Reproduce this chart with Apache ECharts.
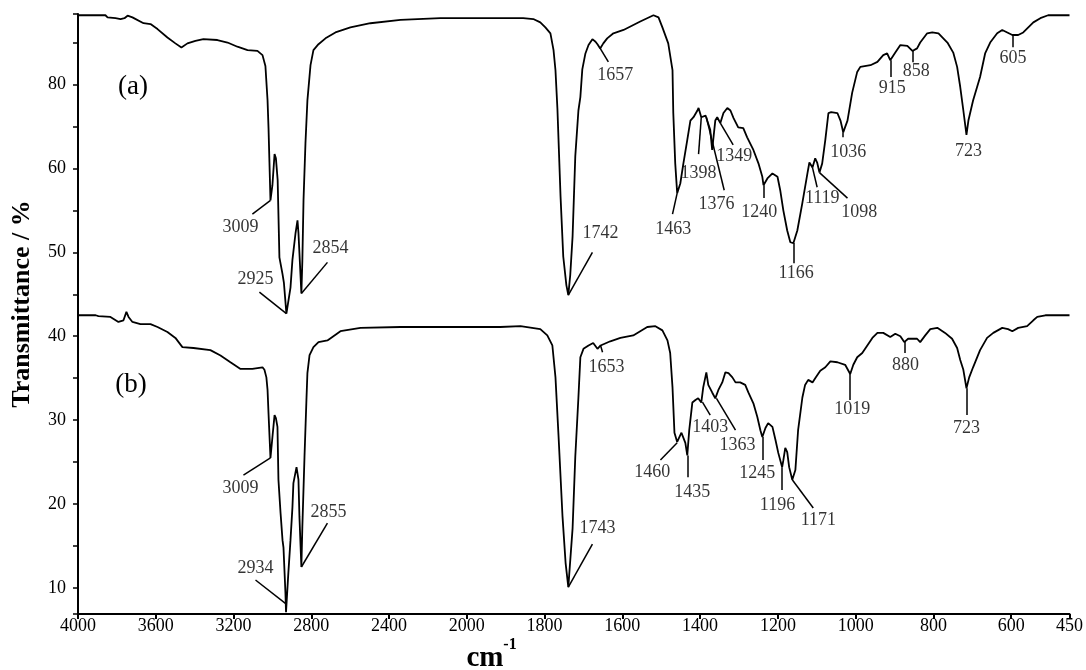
<!DOCTYPE html>
<html>
<head>
<meta charset="utf-8">
<script src="https://cdn.jsdelivr.net/npm/echarts@6/dist/echarts.min.js"></script>
<style>html,body{margin:0;padding:0;background:#fff;}#chart{width:1086px;height:670px;}</style>
</head>
<body>
<div id="chart"></div>
<script>
// x tick labels (wavenumber, cm-1)
const xTickLabels = [4000,3600,3200,2800,2400,2000,1800,1600,1400,1200,1000,800,600,450];
// y tick values (internal) and their printed labels
const yTickValues = [10,20,30,40,50,60,70];
const yTickLabels = ['10','20','30','40','50','60','80'];
const yMinorTicks = [15,25,35,45,55,65,75];

// spectrum (a): [wavenumber, transmittance]
const specA = [[4000,78.25],[3859,78.25],[3848,78.0],[3807,77.9],[3781,77.8],[3761,77.9],[3745,78.2],[3720,78.0],[3663,77.3],[3627,77.2],[3591,76.6],[3540,75.6],[3499,74.9],[3468,74.4],[3437,74.9],[3396,75.2],[3355,75.4],[3283,75.3],[3231,75.0],[3180,74.5],[3128,74.1],[3077,74.0],[3051,73.5],[3036,72.2],[3025,68.1],[3020,64.8],[3010,56.2],[3000,58.0],[2989,61.7],[2982,61.2],[2973,58.6],[2964,49.4],[2948,47.4],[2941,46.4],[2928,42.7],[2907,45.8],[2897,49.1],[2881,52.3],[2871,53.8],[2866,52.3],[2861,49.9],[2851,45.1],[2846,49.0],[2840,56.2],[2830,63.0],[2820,68.1],[2804,72.3],[2789,74.1],[2763,74.8],[2727,75.5],[2676,76.2],[2599,76.8],[2496,77.3],[2341,77.7],[2136,77.9],[1914,77.9],[1855,77.9],[1829,77.8],[1811,77.4],[1798,76.8],[1785,76.1],[1777,74.1],[1772,71.7],[1767,67.1],[1759,56.7],[1752,49.5],[1744,46.1],[1739,44.9],[1734,47.3],[1728,51.9],[1721,61.5],[1713,66.9],[1708,68.5],[1703,71.8],[1695,73.7],[1687,74.7],[1677,75.4],[1669,75.1],[1664,74.8],[1657,74.3],[1649,74.9],[1639,75.5],[1623,76.1],[1597,76.5],[1554,77.5],[1520,78.25],[1507,78.0],[1497,76.8],[1482,74.9],[1471,71.7],[1469,66.6],[1464,60.6],[1459,57.05],[1451,58.2],[1443,60.6],[1433,63.4],[1425,65.7],[1417,66.1],[1407,66.9],[1404,67.2],[1397,66.1],[1386,66.3],[1381,66.1],[1374,64.6],[1369,62.2],[1361,65.7],[1356,66.1],[1348,65.4],[1340,66.6],[1330,67.2],[1322,66.9],[1314,66.0],[1302,64.9],[1289,64.8],[1279,63.7],[1263,62.2],[1250,60.6],[1240,59.0],[1237,58.0],[1227,58.8],[1214,59.4],[1201,59.0],[1194,57.4],[1186,55.0],[1176,52.6],[1168,51.2],[1160,51.1],[1150,52.6],[1137,55.9],[1124,59.4],[1119,60.7],[1111,60.1],[1104,61.2],[1099,60.7],[1093,59.5],[1086,60.6],[1078,63.4],[1070,66.6],[1063,66.7],[1047,66.6],[1039,65.7],[1032,64.3],[1021,65.7],[1009,69.0],[996,71.5],[988,72.1],[962,72.3],[944,72.7],[929,73.5],[919,73.7],[911,72.9],[898,73.8],[885,74.7],[867,74.6],[854,74.0],[842,74.3],[834,75.0],[816,76.1],[803,76.2],[787,76.1],[764,75.0],[749,73.8],[739,72.1],[731,69.7],[723,66.9],[715,64.0],[710,65.7],[698,68.1],[680,70.9],[667,73.7],[654,75.0],[636,76.1],[623,76.5],[610,76.2],[597,75.9],[582,75.9],[569,76.2],[543,77.4],[525,77.9],[505,78.25],[450,78.25]];

// spectrum (b): [wavenumber, transmittance]
const specB = [[4000,42.5],[3909,42.5],[3900,42.7],[3895,42.4],[3833,42.3],[3792,41.7],[3766,41.9],[3751,42.9],[3740,42.3],[3720,41.7],[3679,41.45],[3627,41.45],[3591,41.1],[3540,40.5],[3499,39.8],[3463,38.7],[3406,38.6],[3319,38.35],[3267,37.7],[3216,36.9],[3164,36.1],[3103,36.1],[3097,36.3],[3051,36.3],[3041,36.0],[3031,35.1],[3025,33.6],[3020,30.8],[3010,25.5],[2999,28.2],[2989,30.6],[2982,30.25],[2974,29.2],[2969,22.9],[2958,18.9],[2948,15.7],[2943,14.8],[2933,9.4],[2930,7.1],[2918,11.8],[2907,15.7],[2897,19.6],[2892,22.5],[2876,24.4],[2866,22.9],[2861,18.5],[2851,12.5],[2846,17.3],[2835,25.6],[2825,32.4],[2820,35.6],[2809,37.75],[2789,38.7],[2763,39.3],[2717,39.5],[2650,40.6],[2547,41.0],[2341,41.1],[2000,41.1],[1914,41.1],[1862,41.2],[1811,40.85],[1793,40.1],[1780,38.9],[1772,35.1],[1764,28.0],[1754,18.6],[1746,13.0],[1739,10.1],[1728,17.1],[1721,25.7],[1713,32.7],[1708,37.5],[1700,38.5],[1687,38.9],[1675,39.2],[1664,38.5],[1656,38.9],[1631,39.4],[1605,39.8],[1572,40.1],[1536,41.1],[1515,41.2],[1497,40.7],[1484,39.5],[1477,38.0],[1471,33.9],[1466,28.5],[1459,27.4],[1448,28.5],[1443,28.6],[1438,27.3],[1433,25.8],[1428,28.8],[1420,32.1],[1412,32.4],[1405,32.6],[1397,32.1],[1392,33.9],[1384,35.7],[1379,34.2],[1369,33.3],[1361,32.6],[1353,33.6],[1343,34.5],[1335,35.7],[1327,35.6],[1317,35.1],[1309,34.5],[1297,34.5],[1284,34.2],[1276,33.3],[1263,32.0],[1253,30.4],[1245,28.8],[1240,28.0],[1232,29.06],[1225,29.65],[1214,29.2],[1206,27.6],[1199,26.1],[1189,24.4],[1186,25.2],[1181,26.7],[1176,26.2],[1171,24.4],[1163,22.9],[1155,24.05],[1148,28.8],[1137,32.7],[1130,34.2],[1122,34.8],[1111,34.5],[1104,35.0],[1091,35.9],[1078,36.3],[1065,37.0],[1047,36.9],[1027,36.6],[1014,35.5],[1006,36.6],[996,37.5],[983,38.0],[970,38.9],[957,39.8],[944,40.4],[929,40.4],[911,39.9],[898,40.3],[885,40.0],[875,39.3],[865,39.7],[842,39.7],[834,39.3],[821,40.1],[808,40.85],[790,41.0],[770,40.4],[752,39.7],[739,38.6],[731,37.16],[723,36.0],[715,33.8],[708,35.1],[698,36.3],[680,38.35],[662,39.8],[646,40.4],[623,41.0],[608,40.85],[597,40.6],[582,41.0],[559,41.2],[543,41.9],[533,42.3],[512,42.5],[450,42.5]];

// peak annotations: [text, leaderStartWn, leaderStartT, leaderEndWn, leaderEndT, textWn, textT]
const peaksA = [
  ['3009',3010,56.2,3103,54.55,3164,53.0],
  ['2925',2928,42.7,3067,45.26,3087,46.8],
  ['2854',2851,45.1,2717,48.8,2701,50.5],
  ['1742',1739,44.9,1677,50.0,1656,52.3],
  ['1657',1657,74.3,1636,72.7,1618,71.1],
  ['1463',1459,57.05,1471,54.55,1469,52.8],
  ['1398',1397,66.1,1404,61.7,1404,59.4],
  ['1376',1384,66.1,1338,57.4,1358,55.7],
  ['1349',1348,65.4,1315,62.8,1312,61.5],
  ['1240',1237,58.0,1237,56.46,1248,54.8],
  ['1166',1160,51.1,1160,48.7,1153,47.5],
  ['1119',1111,60.1,1099,57.76,1086,56.45],
  ['1098',1093,59.5,1021,56.46,991,54.79],
  ['1036',1032,64.3,1032,63.72,1019,61.9],
  ['915',911,72.9,911,70.9,906,69.56],
  ['858',854,74.0,854,72.65,844,71.58],
  ['723',null,null,null,null,710,62.05],
  ['605',597,75.9,597,74.44,595,73.13]
];
const peaksB = [
  ['3009',3010,25.5,3149,23.46,3164,21.9],
  ['2934',2930,8.1,3087,10.95,3087,12.3],
  ['2855',2851,12.5,2717,17.74,2712,19.05],
  ['1743',1739,10.1,1677,15.24,1664,17.14],
  ['1653',1656,38.9,1651,38.1,1641,36.3],
  ['1460',1459,27.3,1502,25.25,1523,23.8],
  ['1435',1433,25.8,1433,23.2,1420,21.4],
  ['1403',1394,32.15,1374,30.6,1374,29.2],
  ['1363',1358,32.6,1309,28.8,1304,27.0],
  ['1245',1240,28.0,1240,25.25,1253,23.7],
  ['1196',1189,24.4,1189,21.67,1201,19.9],
  ['1171',1163,22.9,1109,19.53,1096,18.1],
  ['1019',1014,35.5,1014,32.4,1009,31.32],
  ['880',875,39.3,875,38.0,872,36.56],
  ['723',715,33.8,715,30.6,715,29.06]
];

// axis scale: region above 2000 cm-1 compressed by a factor of 2
function toAxis(w){ return w > 2000 ? 2000 + (w - 2000) / 2 : w; }
function fromAxis(t){ return t > 2000 ? 2000 + (t - 2000) * 2 : t; }

const FONT = 'Liberation Serif';
const allPeaks = peaksA.concat(peaksB);
const leaderData = allPeaks.filter(p => p[1] !== null).map(p => ({coords: [[toAxis(p[1]), p[2]], [toAxis(p[3]), p[4]]]}));
const textData = allPeaks.map(p => [toAxis(p[5]), p[6], p[0]]);

const chart = echarts.init(document.getElementById('chart'), null, {renderer: 'canvas'});
const xt = xTickLabels.map(toAxis);
chart.setOption({
  animation: false,
  backgroundColor: '#fff',
  grid: {left: 78, right: 16.5, top: 14, bottom: 56, containLabel: false},
  xAxis: {
    type: 'value', min: toAxis(450), max: toAxis(4000), inverse: true,
    axisLine: {show: true, onZero: false, lineStyle: {color: '#000', width: 2}},
    axisTick: {show: true, inside: false, length: 5, lineStyle: {color: '#000', width: 2}, customValues: xt},
    axisLabel: {show: true, margin: 3, color: '#000', fontSize: 18, fontFamily: FONT, customValues: xt,
      formatter: v => String(Math.round(fromAxis(v)))},
    splitLine: {show: false}
  },
  yAxis: {
    type: 'value', min: 6.9, max: 78.4,
    axisLine: {show: true, onZero: false, lineStyle: {color: '#000', width: 2}},
    axisTick: {show: true, inside: false, length: 5, lineStyle: {color: '#000', width: 1.5},
      customValues: [6.9].concat(yTickValues, yMinorTicks, [78.4])},
    axisLabel: {show: true, margin: 12, color: '#000', fontSize: 18, fontFamily: FONT, customValues: yTickValues,
      formatter: v => { const i = yTickValues.indexOf(Math.round(v)); return i >= 0 ? yTickLabels[i] : ''; }},
    splitLine: {show: false}
  },
  graphic: [
    {type: 'text', x: 22, y: 304, rotation: Math.PI / 2, style: {text: 'Transmittance / %', font: 'bold 26px "Liberation Serif"', fill: '#000', align: 'center', verticalAlign: 'middle'}},
    {type: 'text', x: 485, y: 659, style: {text: 'cm', font: 'bold 29px "Liberation Serif"', fill: '#000', align: 'center', verticalAlign: 'middle'}},
    {type: 'text', x: 510, y: 645, style: {text: '-1', font: 'bold 16px "Liberation Serif"', fill: '#000', align: 'center', verticalAlign: 'middle'}},
    {type: 'text', x: 133, y: 87, style: {text: '(a)', font: '27px "Liberation Serif"', fill: '#000', align: 'center', verticalAlign: 'middle'}},
    {type: 'text', x: 131, y: 385, style: {text: '(b)', font: '27px "Liberation Serif"', fill: '#000', align: 'center', verticalAlign: 'middle'}}
  ],
  series: [
    {type: 'line', name: '(a)', data: specA.map(p => [toAxis(p[0]), p[1]]), showSymbol: false, symbol: 'none',
      lineStyle: {color: '#000', width: 1.8}, z: 3},
    {type: 'line', name: '(b)', data: specB.map(p => [toAxis(p[0]), p[1]]), showSymbol: false, symbol: 'none',
      lineStyle: {color: '#000', width: 1.8}, z: 3},
    {type: 'lines', coordinateSystem: 'cartesian2d', data: leaderData, lineStyle: {color: '#000', width: 1.5, opacity: 1}, z: 4},
    {type: 'scatter', data: textData, symbolSize: 1, itemStyle: {color: 'rgba(0,0,0,0)'}, z: 5,
      label: {show: true, position: 'inside', formatter: p => p.data[2], color: '#000', fontSize: 18, fontFamily: FONT}}
  ]
});
</script>
</body>
</html>
